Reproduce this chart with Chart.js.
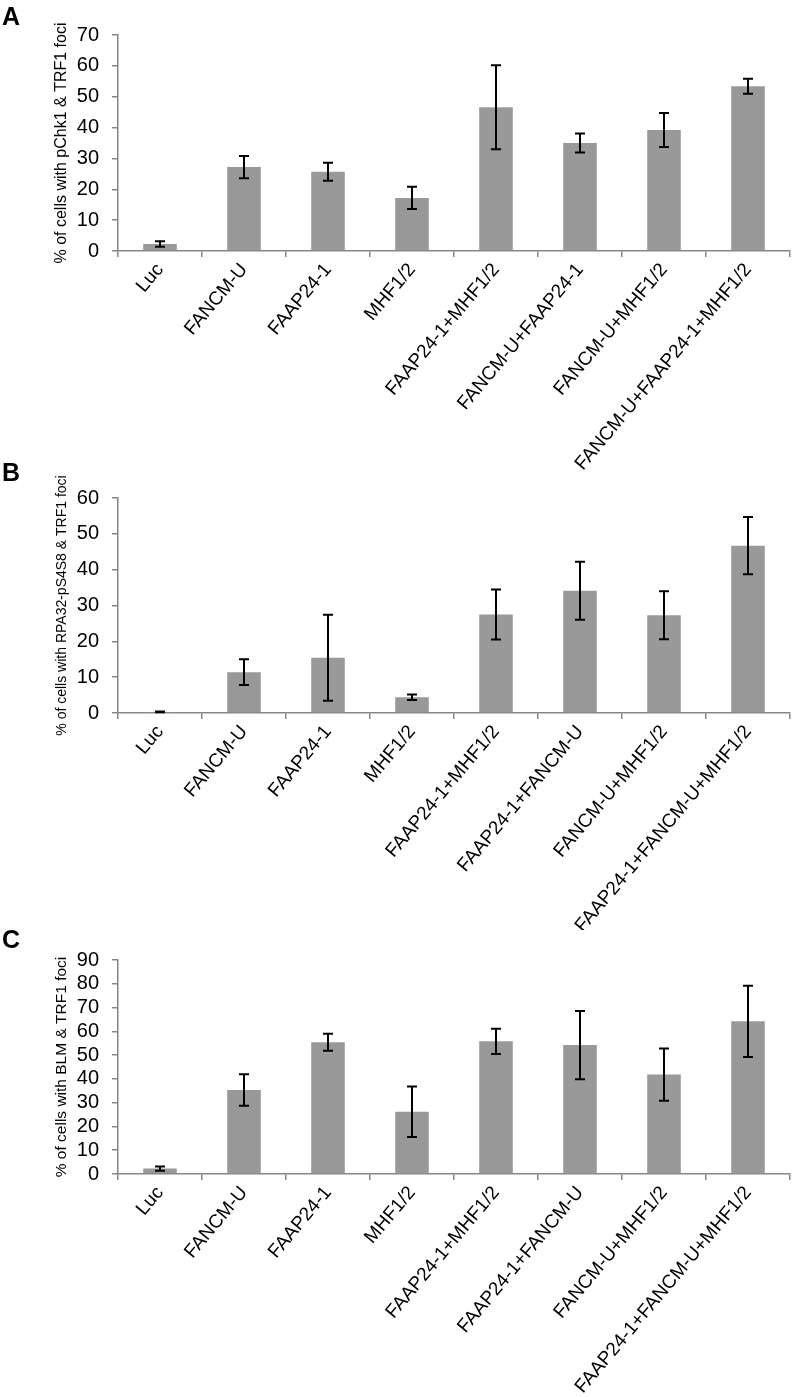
<!DOCTYPE html>
<html lang="en">
<head>
<meta charset="UTF-8">
<title>FANCM knockdown foci</title>
<script src="https://cdn.jsdelivr.net/npm/chart.js"></script>
<style>
  body { margin: 0; background: #fff; width: 796px; height: 1397px; position: relative; overflow: hidden; }
  .panel { position: absolute; left: 0; width: 796px; }
  .letter { position: absolute; left: 2px; font: bold 25px "Liberation Sans", Arial, sans-serif; color: #000; z-index: 2; }
  canvas { position: absolute; left: 0; top: 0; }
</style>
</head>
<body>

<div class="letter" style="top:2px">A</div>
<div class="letter" style="top:458px">B</div>
<div class="letter" style="top:925px">C</div>

<div class="panel" style="top:0; height:470px"><canvas id="chartA" width="796" height="470"></canvas></div>
<div class="panel" style="top:455px; height:475px"><canvas id="chartB" width="796" height="475"></canvas></div>
<div class="panel" style="top:925px; height:472px"><canvas id="chartC" width="796" height="472"></canvas></div>

<script>
  // categories
  const labelsA = ["Luc", "FANCM-U", "FAAP24-1", "MHF1/2", "FAAP24-1+MHF1/2",
                   "FANCM-U+FAAP24-1", "FANCM-U+MHF1/2", "FANCM-U+FAAP24-1+MHF1/2"];
  const labelsBC = ["Luc", "FANCM-U", "FAAP24-1", "MHF1/2", "FAAP24-1+MHF1/2",
                    "FAAP24-1+FANCM-U", "FANCM-U+MHF1/2", "FAAP24-1+FANCM-U+MHF1/2"];

  // % of cells (mean) and error (+/-)
  const valuesA = [2.3, 27.2, 25.7, 17.2, 46.6, 35.0, 39.2, 53.4];
  const errorsA = [0.9, 3.6, 2.9, 3.6, 13.6, 3.1, 5.5, 2.4];
  const valuesB = [0.3, 11.4, 15.4, 4.4, 27.5, 34.1, 27.3, 46.7];
  const errorsB = [0.1, 3.6, 12.0, 0.75, 7.0, 8.1, 6.7, 8.0];
  const valuesC = [2.3, 35.3, 55.4, 26.2, 55.8, 54.2, 41.8, 64.2];
  const errorsC = [0.9, 6.6, 3.6, 10.6, 5.3, 14.3, 11.0, 15.0];

  const titleA = "% of cells with pChk1 & TRF1 foci";
  const titleB = "% of cells with RPA32-pS4S8 & TRF1 foci";
  const titleC = "% of cells with BLM & TRF1 foci";

  const axisGray = "#868686";
  const barGray = "#999999";
  const fontFam = "'Liberation Sans', Arial, sans-serif";

  // error bars drawn from the y scale
  const errorBars = {
    id: "errorBars",
    afterDatasetsDraw(chart) {
      const ctx = chart.ctx;
      const yScale = chart.scales.y;
      const ds = chart.data.datasets[0];
      const meta = chart.getDatasetMeta(0);
      ctx.save();
      ctx.strokeStyle = "#000";
      ctx.lineWidth = 2;
      meta.data.forEach((bar, i) => {
        const v = ds.data[i], e = ds.errors[i];
        const top = yScale.getPixelForValue(v + e);
        const bot = yScale.getPixelForValue(Math.max(v - e, 0));
        const x = bar.x;
        ctx.beginPath();
        ctx.moveTo(x, top); ctx.lineTo(x, bot);
        ctx.moveTo(x - 5, top); ctx.lineTo(x + 5, top);
        ctx.moveTo(x - 5, bot); ctx.lineTo(x + 5, bot);
        ctx.stroke();
      });
      ctx.restore();
    }
  };

  // y title drawn at full width (the built-in one squeezes it to the axis height)
  const yTitle = {
    id: "yTitle",
    afterDraw(chart, args, opts) {
      const { ctx, chartArea } = chart;
      ctx.save();
      ctx.translate(opts.x, (chartArea.top + chartArea.bottom) / 2);
      ctx.rotate(-Math.PI / 2);
      ctx.font = opts.size + "px " + fontFam;
      ctx.fillStyle = "#000";
      ctx.textAlign = "center";
      ctx.textBaseline = "middle";
      ctx.fillText(opts.text, 0, 0);
      ctx.restore();
    }
  };

  function makeChart(id, labels, values, errors, yMax, title, titleSize, plotTop, plotBottom, height) {
    return new Chart(document.getElementById(id), {
      type: "bar",
      data: {
        labels: labels,
        datasets: [{
          data: values,
          errors: errors,
          backgroundColor: barGray,
          borderWidth: 0,
          barPercentage: 0.4,
          categoryPercentage: 1.0
        }]
      },
      options: {
        responsive: false,
        animation: false,
        devicePixelRatio: 1,
        layout: { padding: { left: 58, right: 6, top: plotTop, bottom: 0 } },
        plugins: {
          legend: { display: false },
          tooltip: { enabled: false },
          yTitle: { text: title, x: 62, size: titleSize }
        },
        scales: {
          x: {
            offset: true,
            grid: { offset: true, drawOnChartArea: false, drawTicks: true, tickLength: 6, color: axisGray, lineWidth: 1.5 },
            border: { color: axisGray, width: 1.5 },
            ticks: {
              color: "#000", font: { family: fontFam, size: 19 },
              minRotation: 50, maxRotation: 50, autoSkip: false, padding: 2
            },
            afterFit(scale) { scale.height = height - plotBottom; }
          },
          y: {
            min: 0, max: yMax,
            grid: { drawOnChartArea: false, drawTicks: true, tickLength: 6, color: axisGray, lineWidth: 1.5 },
            border: { color: axisGray, width: 1.5 },
            ticks: { stepSize: 10, autoSkip: false, color: "#000", font: { family: fontFam, size: 20 }, padding: 13 },
            afterFit(scale) { scale.width = 60; }
          }
        }
      },
      plugins: [errorBars, yTitle]
    });
  }

  makeChart("chartA", labelsA, valuesA, errorsA, 70, titleA, 16, 35, 251, 470);
  makeChart("chartB", labelsBC, valuesB, errorsB, 60, titleB, 14, 43, 258, 475);
  makeChart("chartC", labelsBC, valuesC, errorsC, 90, titleC, 15.5, 35, 249, 472);
</script>

</body>
</html>
